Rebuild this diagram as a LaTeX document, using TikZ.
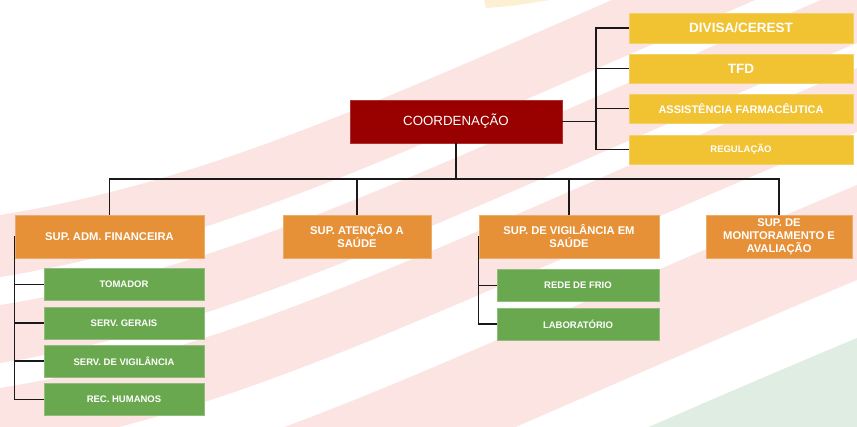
\documentclass[tikz,border=0pt]{standalone}
\usepackage{fontspec}
\setmainfont{Liberation Sans}
\definecolor{coordred}{HTML}{990000}
\definecolor{supyellow}{HTML}{F1C232}
\definecolor{suporange}{HTML}{E69138}
\definecolor{subgreen}{HTML}{6AA84F}
\definecolor{bgpink}{HTML}{FBE4E2}
\definecolor{bggreen}{HTML}{E0EDE3}
\definecolor{bgyellow}{HTML}{FDEFD2}
\begin{document}
\begin{tikzpicture}[x=1pt, y=-1pt,
  coordbox/.style={rectangle, fill=coordred, draw=coordred!80!white, line width=0.5pt,
    minimum width=212pt, minimum height=43pt, inner sep=0pt, text=white,
    font=\fontsize{13.3}{15}\selectfont},
  ybox/.style={rectangle, fill=supyellow, draw=supyellow!75!white, line width=0.5pt,
    minimum width=224pt, minimum height=29pt, inner sep=0pt, text=white},
  obox/.style={rectangle, fill=suporange, draw=suporange!75!white, line width=0.5pt,
    minimum height=43pt, inner sep=0pt, text=white, align=center,
    font=\bfseries\fontsize{11.2}{13}\selectfont},
  gbox/.style={rectangle, fill=subgreen, draw=subgreen!75!white, line width=0.5pt,
    minimum height=32pt, inner sep=0pt, text=white,
    font=\bfseries\fontsize{9.5}{11}\selectfont},
  link/.style={draw=black!90, line width=1.1pt}]

\useasboundingbox (0,0) rectangle (857,427);

% soft background swooshes
\begin{scope}
  \clip (0,0) rectangle (857,427);
  \fill[white] (0,0) rectangle (857,427);
  \foreach \a/\b in {215/277, 305/363, 388/452, 505/600}
    \fill[bgpink] (0,\a) .. controls (250,{\a-40}) and (450,{\a-150}) .. (857,{\a-320})
      -- (857,{\b-320}) .. controls (450,{\b-150}) and (250,{\b-40}) .. (0,\b) -- cycle;
  \fill[bggreen] (0,658) .. controls (250,618) and (450,508) .. (857,338)
      -- (857,500) -- (0,700) -- cycle;
  \fill[bgyellow] (484,0) -- (486,8) .. controls (512,6) .. (550,0) -- cycle;
\end{scope}

% top level
\node[coordbox] (coord) at (456,121.5) {COORDENAÇÃO};

% staff units on the right
\node[ybox, minimum height=30pt, font=\bfseries\fontsize{13.5}{15}\selectfont] (divisa) at (741,28) {DIVISA/CEREST};
\node[ybox, font=\bfseries\fontsize{13.5}{15}\selectfont] (tfd) at (741,68.5) {TFD};
\node[ybox, font=\bfseries\fontsize{11}{13}\selectfont] (assist) at (741,108.5) {ASSISTÊNCIA FARMACÊUTICA};
\node[ybox, font=\bfseries\fontsize{9.5}{11}\selectfont] (regul) at (741,149.5) {REGULAÇÃO};

% superintendences
\node[obox, minimum width=189pt] (adm) at (109.5,236.5) {SUP. ADM. FINANCEIRA};
\node[obox, minimum width=148pt] (aten) at (357,236.5) {SUP. ATENÇÃO A\\SAÚDE};
\node[obox, minimum width=180pt] (vig) at (569,236.5) {SUP. DE VIGILÂNCIA EM\\SAÚDE};
\node[obox, minimum width=146pt] (mon) at (779,236.5) {SUP. DE\\MONITORAMENTO E\\AVALIAÇÃO};

% sectors
\node[gbox, minimum width=160pt] (tom) at (124,284.5) {TOMADOR};
\node[gbox, minimum width=160pt] (gerais) at (124,323) {SERV. GERAIS};
\node[gbox, minimum width=160pt] (vigil) at (124,361) {SERV. DE VIGILÂNCIA};
\node[gbox, minimum width=160pt] (rh) at (124,399.5) {REC. HUMANOS};
\node[gbox, minimum width=162pt] (frio) at (578,285.5) {REDE DE FRIO};
\node[gbox, minimum width=162pt] (lab) at (578,324) {LABORATÓRIO};

% connectors
\coordinate (rbus) at (596,0);
\coordinate (bus) at (0,179);

\draw[link] (coord.east) -- (coord.east -| rbus);
\draw[link] (divisa.west) -- (divisa.west -| rbus) -- (regul.west -| rbus) -- (regul.west);
\draw[link] (tfd.west -| rbus) -- (tfd.west);
\draw[link] (assist.west -| rbus) -- (assist.west);

\draw[link] (coord.south) -- (coord.south |- bus);
\draw[link] (adm.north) -- (adm.north |- bus) -- (mon.north |- bus) -- (mon.north);
\draw[link] (aten.north |- bus) -- (aten.north);
\draw[link] (vig.north |- bus) -- (vig.north);

\draw[link] (adm.west) -- (rh.west -| adm.west) -- (rh.west);
\draw[link] (tom.west -| adm.west) -- (tom.west);
\draw[link] (gerais.west -| adm.west) -- (gerais.west);
\draw[link] (vigil.west -| adm.west) -- (vigil.west);

\draw[link] (vig.west) -- (lab.west -| vig.west) -- (lab.west);
\draw[link] (frio.west -| vig.west) -- (frio.west);
\end{tikzpicture}
\end{document}
